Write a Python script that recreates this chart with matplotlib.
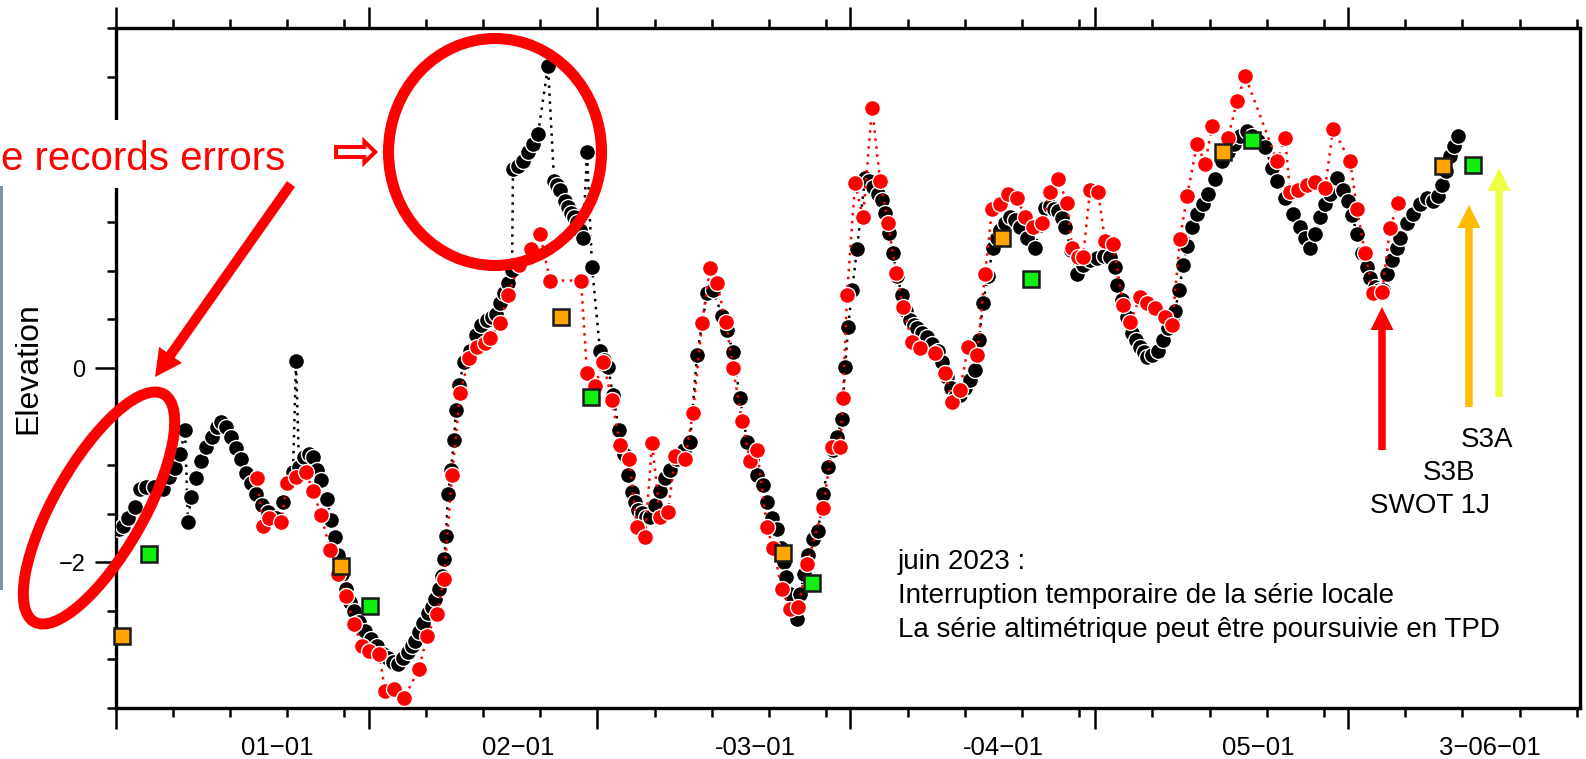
import numpy as np
import matplotlib
matplotlib.use("Agg")
import matplotlib.pyplot as plt
import matplotlib.transforms as mtransforms
from matplotlib.patches import Ellipse, Rectangle, FancyArrow
from matplotlib.ticker import FixedLocator, NullFormatter, FixedFormatter

plt.rcParams['font.family'] = ['Liberation Sans', 'DejaVu Sans']

# ---------------- data (x = days since 2023-01-01, y = elevation) ----------------
black_day = [0.37, 0.86, 1.47, 2.33, 2.94, 3.68, 4.66, 5.76, 6.50, 7.23, 7.84, 8.46, 8.82, 9.19, 9.80,
             10.42, 11.03, 11.76, 12.38, 12.87, 13.48, 14.09, 14.71, 15.32, 15.93, 16.54, 17.16, 17.89,
             18.63, 19.61, 20.47, 21.08, 21.69, 22.06, 22.43, 23.04, 23.65, 24.14, 24.63, 25.12, 25.86,
             26.35, 26.84, 27.21, 27.70, 28.19, 28.68, 29.17, 29.78, 30.51, 31.25, 31.99, 32.72, 33.33,
             33.95, 34.56, 35.17, 35.78, 36.27, 36.64, 37.13, 37.62, 38.24, 38.73, 39.09, 39.58, 39.95,
             40.20, 40.44, 40.69, 41.05, 41.42, 41.67, 42.03, 42.65, 43.38, 44.12, 44.73, 45.47, 46.08,
             46.57, 47.06, 47.55, 48.04, 48.53, 48.65, 49.26, 49.88, 50.49, 51.10, 51.72, 52.94, 53.68,
             54.04, 54.41, 55.02, 55.39, 55.76, 56.13, 56.50, 56.86, 57.23, 57.72, 58.33, 59.31, 59.80,
             60.29, 60.91, 61.64, 62.25, 62.75, 63.24, 63.60, 63.97, 64.46, 64.95, 65.44, 66.05, 66.67,
             67.28, 67.89, 68.75, 69.61, 70.34, 71.20, 72.43, 73.16, 74.26, 74.88, 75.61, 76.47, 77.33,
             77.94, 78.55, 79.29, 79.78, 80.39, 81.00, 81.50, 81.86, 82.11, 82.60, 83.09, 83.46, 83.82,
             84.31, 84.80, 85.42, 86.03, 86.64, 87.25, 87.87, 88.36, 88.97, 89.34, 89.71, 90.20, 90.81,
             91.79, 92.28, 92.77, 93.38, 93.87, 94.24, 94.73, 95.22, 95.71, 96.32, 96.81, 97.30, 97.79,
             98.16, 98.77, 99.39, 100.00, 100.74, 101.23, 101.84, 102.33, 102.82, 103.43, 104.04, 104.66,
             105.27, 105.76, 106.25, 106.86, 107.48, 107.97, 108.33, 108.95, 109.56, 110.17, 110.78,
             111.64, 112.62, 113.24, 113.85, 114.46, 114.95, 115.44, 115.93, 116.30, 117.03, 117.77,
             118.50, 119.36, 120.22, 121.08, 121.81, 122.43, 122.67, 123.28, 123.90, 124.51, 125.00,
             125.49, 125.98, 126.35, 126.96, 127.70, 128.31, 128.92, 129.41, 129.78, 130.27, 130.76,
             131.25, 131.86, 132.48, 133.21, 133.82, 134.68, 135.54, 136.27, 137.01, 137.75, 138.60,
             139.22, 139.95, 140.81, 141.67, 142.28, 143.26, 144.24, 145.10, 145.71, 146.32, 146.94,
             147.55, 148.16, 148.77, 149.63, 150.37, 150.98, 151.47, 152.08, 152.70, 153.31, 153.68,
             154.29, 154.78, 155.27, 155.76, 156.37, 156.99, 157.35, 158.21, 158.95, 159.80, 160.66,
             161.40, 162.01, 162.50, 162.99, 163.48, 163.97, 164.46]
black_val = [-1.66, -1.63, -1.54, -1.43, -1.25, -1.23, -1.22, -1.25, -1.12, -1.03, -0.89, -0.64, -1.59,
             -1.33, -1.13, -0.96, -0.81, -0.71, -0.61, -0.56, -0.61, -0.71, -0.82, -0.94, -1.08, -1.18,
             -1.30, -1.41, -1.48, -1.54, -1.38, -1.17, -1.07, 0.07, -1.02, -0.92, -0.89, -0.92, -1.05,
             -1.15, -1.35, -1.56, -1.74, -1.92, -2.12, -2.28, -2.41, -2.50, -2.61, -2.71, -2.79, -2.86,
             -2.94, -2.99, -3.03, -3.05, -2.99, -2.92, -2.86, -2.81, -2.72, -2.62, -2.52, -2.46, -2.38,
             -2.28, -2.14, -1.97, -1.73, -1.30, -1.05, -0.74, -0.43, -0.17, 0.06, 0.18, 0.34, 0.44, 0.49,
             0.53, 0.56, 0.67, 0.77, 0.88, 1.01, 2.05, 2.08, 2.13, 2.22, 2.31, 2.41, 3.11, 1.93, 1.88,
             1.83, 1.72, 1.66, 1.60, 1.55, 1.50, 1.42, 1.34, 2.22, 1.04, 0.18, 0.08, 0.01, -0.28, -0.64,
             -0.89, -1.10, -1.28, -1.38, -1.46, -1.49, -1.53, -1.53, -1.41, -1.27, -1.13, -1.05, -0.94,
             -0.84, -0.76, 0.13, 0.77, 0.80, 0.54, 0.39, 0.16, -0.31, -0.76, -0.94, -1.10, -1.20, -1.38,
             -1.54, -1.66, -1.85, -2.00, -2.15, -2.33, -2.48, -2.58, -2.33, -2.12, -1.92, -1.76, -1.68,
             -1.30, -1.02, -0.84, -0.71, -0.53, 0.01, 0.42, 0.80, 1.23, 1.96, 1.93, 1.86, 1.79, 1.73, 1.60,
             1.39, 1.18, 0.95, 0.75, 0.59, 0.49, 0.44, 0.41, 0.36, 0.32, 0.25, 0.18, 0.06, -0.09, -0.21,
             -0.30, -0.28, -0.21, -0.12, -0.02, 0.29, 0.67, 0.95, 1.24, 1.34, 1.42, 1.49, 1.55, 1.52,
             1.45, 1.34, 1.24, 1.47, 1.65, 1.67, 1.64, 1.62, 1.54, 1.45, 1.21, 0.97, 1.06, 1.11, 1.13,
             1.15, 1.14, 1.04, 0.85, 0.70, 0.52, 0.36, 0.29, 0.22, 0.16, 0.11, 0.13, 0.18, 0.29, 0.41,
             0.51, 0.59, 0.80, 1.06, 1.26, 1.45, 1.59, 1.69, 1.79, 1.95, 2.13, 2.22, 2.31, 2.39, 2.44,
             2.39, 2.34, 2.27, 2.06, 1.93, 1.75, 1.59, 1.45, 1.34, 1.24, 1.38, 1.55, 1.69, 1.79, 1.96,
             1.83, 1.72, 1.57, 1.38, 1.18, 1.04, 0.93, 0.83, 0.80, 0.80, 0.97, 1.11, 1.24, 1.34, 1.49,
             1.59, 1.69, 1.75, 1.72, 1.77, 1.88, 2.03, 2.18, 2.29, 2.39]

red_day = [17.28, 18.01, 18.75, 20.22, 20.96, 22.06, 23.28, 24.14, 25.12, 26.23, 27.21, 28.19, 29.17,
           30.15, 31.00, 32.23, 32.97, 34.07, 35.29, 37.13, 38.11, 39.34, 40.20, 41.18, 42.16, 43.26,
           44.24, 45.22, 45.83, 47.06, 48.04, 49.39, 50.86, 51.96, 53.19, 56.99, 57.72, 58.70, 59.68,
           60.78, 61.76, 62.87, 63.85, 64.83, 65.69, 66.67, 67.65, 68.50, 69.73, 70.71, 71.81, 72.79,
           73.65, 74.75, 75.61, 76.72, 77.70, 78.55, 79.78, 80.51, 81.62, 82.60, 83.58, 84.68, 86.64,
           87.75, 88.73, 89.09, 89.58, 90.56, 91.54, 92.65, 93.63, 94.61, 95.59, 96.45, 97.55, 98.53,
           100.37, 101.59, 102.45, 103.43, 104.41, 105.51, 106.50, 107.35, 108.33, 109.31, 110.42,
           111.40, 112.38, 113.48, 114.46, 115.44, 116.54, 117.16, 117.89, 118.50, 119.36, 120.34,
           121.20, 122.18, 123.41, 124.26, 125.49, 126.35, 127.33, 128.55, 129.41, 130.39, 131.25,
           132.48, 133.46, 134.31, 136.27, 137.38, 138.36, 142.28, 143.26, 143.87, 144.85, 145.96,
           146.94, 148.16, 149.14, 151.23, 152.08, 153.06, 154.04, 155.15, 156.13, 157.11]
red_val = [-1.13, -1.63, -1.54, -1.59, -1.18, -1.12, -1.07, -1.27, -1.51, -1.87, -2.12, -2.35, -2.64,
           -2.86, -2.91, -2.94, -3.32, -3.30, -3.40, -3.10, -2.76, -2.53, -2.17, -1.10, -0.26, 0.10,
           0.22, 0.26, 0.31, 0.46, 0.75, 1.06, 1.23, 1.38, 0.90, 0.90, -0.05, -0.19, 0.06, -0.33, -0.79,
           -0.94, -1.64, -1.74, -0.77, -1.53, -1.48, -0.91, -0.94, -0.46, 0.46, 1.03, 0.87, 0.47, 0.00,
           -0.55, -0.96, -0.84, -1.64, -1.85, -2.28, -2.48, -2.46, -2.02, -1.44, -0.81, -0.81, -0.31,
           0.75, 1.90, 1.55, 2.68, 1.93, 1.49, 0.98, 0.63, 0.27, 0.21, 0.15, -0.05, -0.35, -0.23, 0.22,
           0.13, 0.97, 1.64, 1.69, 1.79, 1.75, 1.55, 1.45, 1.49, 1.81, 1.95, 1.70, 1.24, 1.14, 1.14,
           1.83, 1.81, 1.31, 1.28, 0.65, 0.47, 0.73, 0.67, 0.62, 0.52, 0.44, 1.33, 1.77, 2.31, 2.10,
           2.49, 2.37, 2.75, 3.01, 2.13, 2.37, 1.81, 1.83, 1.88, 1.91, 1.85, 2.46, 2.13, 1.64, 1.18,
           0.77, 0.78, 1.44, 1.70]

orange_day = [0.7, 27.6, 54.5, 81.7, 108.6, 135.7, 162.6]
orange_val = [-2.76, -2.04, 0.52, -1.90, 1.34, 2.22, 2.08]
green_day = [4.0, 31.1, 58.2, 85.3, 112.1, 139.2, 166.3]
green_val = [-1.91, -2.45, -0.30, -2.21, 0.92, 2.35, 2.09]

month_starts = [0, 31, 59, 90, 120, 151]
x_labels = ['01−01', '02−01', '-03−01', '-04−01', '05−01', '3−06−01']
x_label_pos = [19.7, 49.3, 78.3, 108.7, 140.0, 168.3]
y_ticks = [-2, 0, 2]
y_ticklabels = ['−2', '0', '']   # the "2" label is hidden under the white box in the reference

# ---------------- figure ----------------
W, H = 1586, 759
fig = plt.figure(figsize=(W / 100, H / 100), dpi=100)
ax = fig.add_axes([116 / W, 1 - 708 / H, (1580 - 116) / W, (708 - 28) / H])

ax.plot(black_day, black_val, ls=(0, (1, 2.2)), color='black', lw=1.8, zorder=2)
ax.plot(black_day, black_val, 'o', ls='none', ms=11.5, mfc='black', mec='white', mew=1.0, zorder=3)
ax.plot(red_day, red_val, ls=(0, (1, 2.2)), color='#ff0000', lw=1.8, zorder=3.5)
ax.plot(red_day, red_val, 'o', ls='none', ms=11.5, mfc='#ff0000', mec='white', mew=1.0, zorder=4)
ax.plot(orange_day, orange_val, 's', ls='none', ms=11, mfc='#ffa500', mec='#1a1a1a', mew=1.8,
        zorder=5, clip_on=False)
ax.plot(green_day, green_val, 's', ls='none', ms=11, mfc='#11ee11', mec='#1a1a1a', mew=1.8,
        zorder=5, clip_on=False)

ax.set_xlim(0, 179.4)
ax.set_ylim(-3.5, 3.5)
minor_x = [m + k for m in month_starts for k in (7, 14, 21, 28) if m + k < 179.4]
ax.xaxis.set_major_locator(FixedLocator(month_starts))
ax.xaxis.set_minor_locator(FixedLocator(minor_x))
ax.xaxis.set_major_formatter(NullFormatter())
ax.tick_params(axis='x', which='both', top=True, bottom=True, direction='out', width=1.8,
               labelbottom=False)
ax.tick_params(axis='x', which='major', length=15)
ax.tick_params(axis='x', which='minor', length=6.5)

ax.yaxis.set_major_locator(FixedLocator(y_ticks))
ax.yaxis.set_major_formatter(FixedFormatter(y_ticklabels))
ax.yaxis.set_minor_locator(FixedLocator(np.arange(-3.5, 3.51, 0.5)))
ax.tick_params(axis='y', which='both', left=True, right=False, direction='out', width=1.8)
ax.tick_params(axis='y', which='major', length=15, labelsize=17, pad=7)
ax.tick_params(axis='y', which='minor', length=6.5)
for s in ax.spines.values():
    s.set_linewidth(2.4)

trans = mtransforms.blended_transform_factory(ax.transData, ax.transAxes)
for p, t in zip(x_label_pos, x_labels):
    ax.text(p, -0.0691, t, transform=trans, ha='center', va='baseline', fontsize=18.5, clip_on=False)

ax.set_ylabel('Elevation', fontsize=23)
ax.yaxis.set_label_coords(-0.0600, 0.5)
ax.yaxis.label.set_verticalalignment('center')

# ---------------- overlay annotations (pixel coordinates) ----------------
ov = fig.add_axes([0, 0, 1, 1], zorder=10)
ov.set_xlim(0, W)
ov.set_ylim(H, 0)
ov.axis('off')

ov.add_patch(Rectangle((0, 120), 292, 68, fc='white', ec='none'))
ov.add_patch(Rectangle((0, 186), 3, 404, fc='#7f93a8', ec='none'))
ov.text(1, 170, 'e records errors', color='#ff0000', fontsize=29, ha='left', va='baseline')
ov.text(356, 153, '⇨', color='#ff0000', fontsize=42, ha='center', va='center',
        family=['DejaVu Sans'], fontweight='bold')
ov.add_patch(FancyArrow(291, 184, 155 - 291, 377 - 184, width=10, head_width=28, head_length=27,
                        length_includes_head=True, color='#ff0000', lw=0))
ov.add_patch(Ellipse((495, 152), 213, 227, fill=False, ec='#ff0000', lw=8))
ov.add_patch(Ellipse((99, 508), 262, 90, angle=-60.35, fill=False, ec='#ff0000', lw=7.9))

for x0, yb, yt, c in [(1382, 450, 307, '#ff0000'), (1469, 407, 205, '#ffbb00'),
                      (1499, 397, 168, '#eeff44')]:
    ov.add_patch(FancyArrow(x0, yb, 0, yt - yb, width=7.5, head_width=23, head_length=23,
                            length_includes_head=True, color=c, lw=0))

ov.text(1461, 447, 'S3A', fontsize=20, ha='left', va='baseline')
ov.text(1423, 480, 'S3B', fontsize=20, ha='left', va='baseline')
ov.text(1370, 513, 'SWOT 1J', fontsize=20, ha='left', va='baseline')

ov.text(898, 569, 'juin 2023 :', fontsize=20, ha='left', va='baseline')
ov.text(898, 603, 'Interruption temporaire de la série locale', fontsize=20, ha='left', va='baseline')
ov.text(898, 637, 'La série altimétrique peut être poursuivie en TPD', fontsize=20, ha='left',
        va='baseline')

fig.savefig('out.png', dpi=100)
